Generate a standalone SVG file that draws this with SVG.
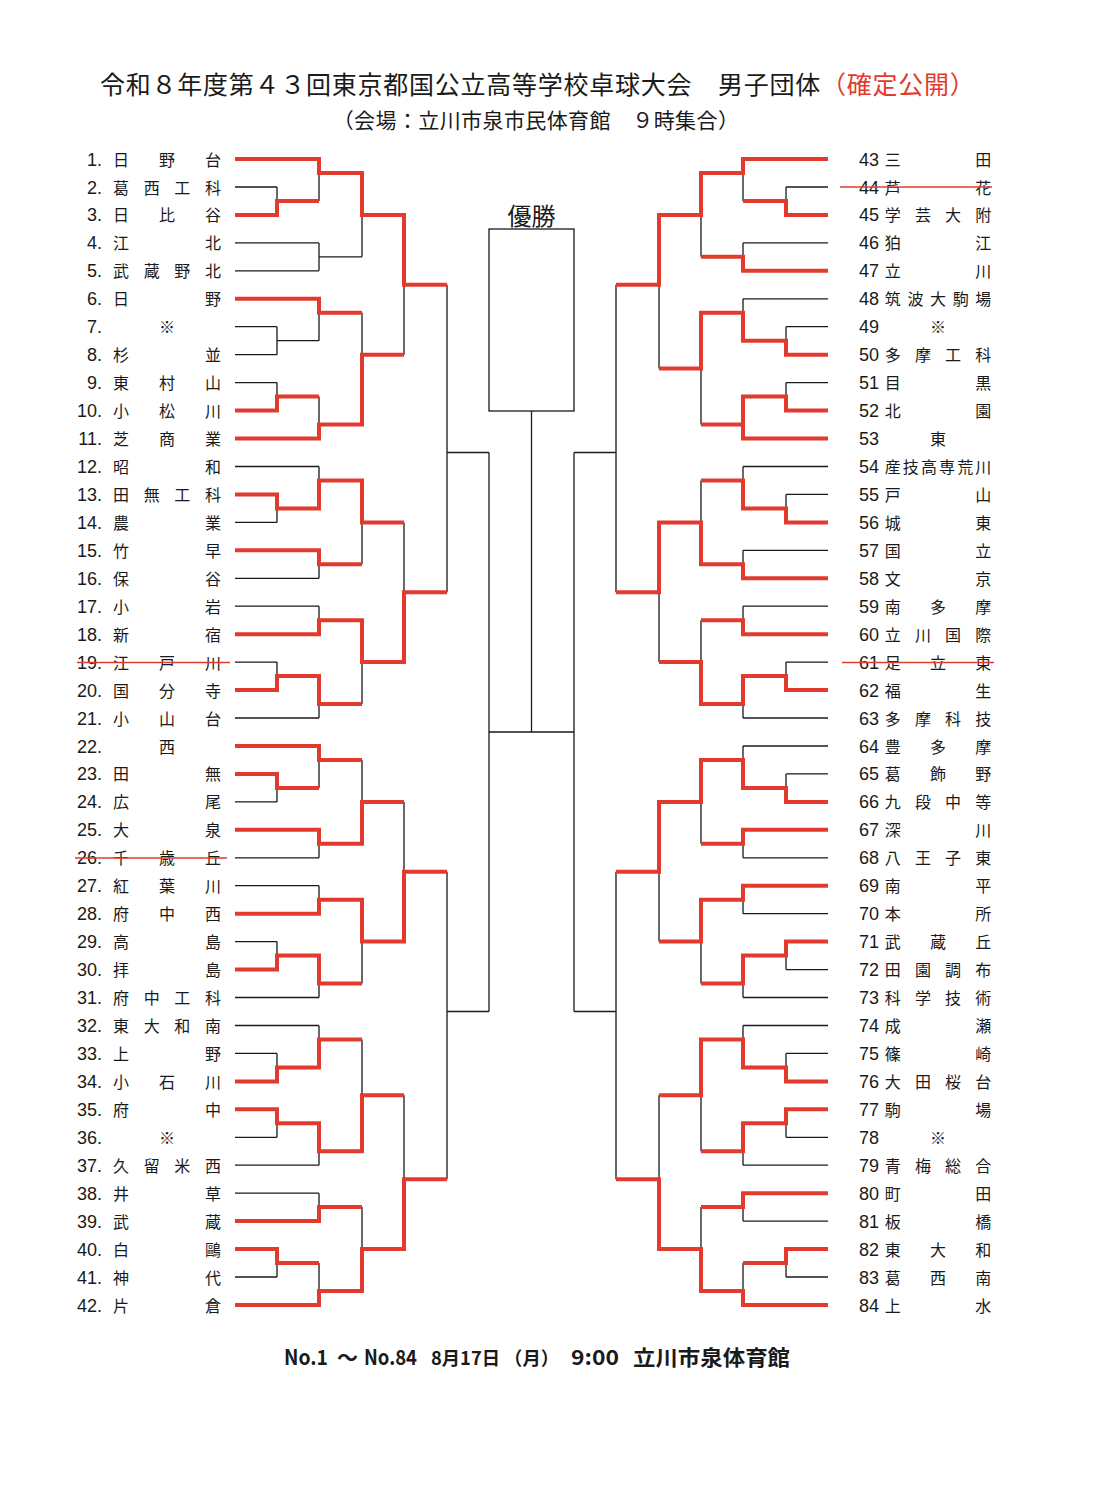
<svg xmlns="http://www.w3.org/2000/svg" width="1098" height="1486" viewBox="0 0 1098 1486">
<style>
.bk{fill:none;stroke:#1a1a1a;stroke-width:1.3}
.rd{fill:none;stroke:#e23b2e;stroke-width:4;stroke-linejoin:miter}
.xo{fill:none;stroke:#e23b2e;stroke-width:1.6}
.num{font-family:"Liberation Sans","Noto Sans CJK JP",sans-serif;font-size:18px;fill:#1a1a1a}
.nl{text-anchor:end}
.nm{font-family:"Noto Sans CJK JP",sans-serif;font-size:16px;fill:#1a1a1a;text-anchor:middle}
.tt{font-family:"Noto Sans CJK JP",sans-serif;fill:#1a1a1a}
.ft{font-family:"Noto Sans CJK JP",sans-serif;font-size:21px;font-weight:700;fill:#1a1a1a}
.ft2{font-family:"Noto Sans CJK JP",sans-serif;font-size:18.5px;font-weight:700;fill:#1a1a1a}
</style>
<rect width="1098" height="1486" fill="#ffffff"/>
<g id="title">
<text class="tt" x="100" y="94" font-size="25" letter-spacing="0.75">令和８年度第４３回東京都国公立高等学校卓球大会　男子団体<tspan fill="#e23b2e">（確定公開）</tspan></text>
<text class="tt" x="536" y="128" font-size="21" letter-spacing="0.4" text-anchor="middle">（会場：立川市泉市民体育館　９時集合）</text>
</g>
<g id="champion">
<text class="tt" x="531.5" y="225" font-size="24" text-anchor="middle">優勝</text>
<rect x="489" y="229" width="85" height="182" fill="none" stroke="#1a1a1a" stroke-width="1.3"/>
</g>
<g id="connectors">
<path class="bk" d="M235 159H319M235 187H277M235 214.9H277M235 242.9H319M235 270.8H319M235 298.8H319M235 326.7H277M235 354.7H277M235 382.6H277M235 410.6H277M235 438.5H319M235 466.5H319M235 494.4H277M235 522.4H277M235 550.3H319M235 578.3H319M235 606.2H319M235 634.2H319M235 662.1H277M235 690.1H277M235 718H319M235 746H319M235 773.9H277M235 801.9H277M235 829.8H319M235 857.8H319M235 885.7H319M235 913.7H319M235 941.6H277M235 969.6H277M235 997.5H319M235 1025.5H319M235 1053.4H277M235 1081.4H277M235 1109.3H277M235 1137.3H277M235 1165.2H319M235 1193.2H319M235 1221.1H319M235 1249.1H277M235 1277H277M235 1305H319
M277 187V214.9M277 200.9H319M277 326.7V354.7M277 340.7H319M277 382.6V410.6M277 396.6H319M277 494.4V522.4M277 508.4H319M277 662.1V690.1M277 676.1H319M277 773.9V801.9M277 787.9H319M277 941.6V969.6M277 955.6H319M277 1053.4V1081.4M277 1067.4H319M277 1109.3V1137.3M277 1123.3H319M277 1249.1V1277M277 1263H319
M319 159V200.9M319 173H362M319 242.9V270.8M319 256.8H362M319 298.8V340.7M319 312.7H362M319 396.6V438.5M319 424.5H362M319 466.5V508.4M319 480.4H362M319 550.3V578.3M319 564.3H362M319 606.2V634.2M319 620.2H362M319 676.1V718M319 704H362M319 746V787.9M319 759.9H362M319 829.8V857.8M319 843.8H362M319 885.7V913.7M319 899.7H362M319 955.6V997.5M319 983.5H362M319 1025.5V1067.4M319 1039.4H362M319 1123.3V1165.2M319 1151.2H362M319 1193.2V1221.1M319 1207.1H362M319 1263V1305M319 1291H362
M362 173V256.8M362 214.9H404M362 312.7V424.5M362 354.7H404M362 480.4V564.3M362 522.4H404M362 620.2V704M362 662.1H404M362 759.9V843.8M362 801.9H404M362 899.7V983.5M362 941.6H404M362 1039.4V1151.2M362 1095.3H404M362 1207.1V1291M362 1249.1H404
M404 214.9V354.7M404 284.8H447M404 522.4V662.1M404 592.2H447M404 801.9V941.6M404 871.7H447M404 1095.3V1249.1M404 1179.2H447
M447 284.8V592.2M447 452.5H489M447 871.7V1179.2M447 1011.5H489"/>
<path class="bk" d="M828 159H743M828 187H786M828 214.9H786M828 242.9H743M828 270.8H743M828 298.8H743M828 326.7H786M828 354.7H786M828 382.6H786M828 410.6H786M828 438.5H743M828 466.5H743M828 494.4H786M828 522.4H786M828 550.3H743M828 578.3H743M828 606.2H743M828 634.2H743M828 662.1H786M828 690.1H786M828 718H743M828 746H743M828 773.9H786M828 801.9H786M828 829.8H743M828 857.8H743M828 885.7H743M828 913.7H743M828 941.6H786M828 969.6H786M828 997.5H743M828 1025.5H743M828 1053.4H786M828 1081.4H786M828 1109.3H786M828 1137.3H786M828 1165.2H743M828 1193.2H743M828 1221.1H743M828 1249.1H786M828 1277H786M828 1305H743
M786 187V214.9M786 200.9H743M786 326.7V354.7M786 340.7H743M786 382.6V410.6M786 396.6H743M786 494.4V522.4M786 508.4H743M786 662.1V690.1M786 676.1H743M786 773.9V801.9M786 787.9H743M786 941.6V969.6M786 955.6H743M786 1053.4V1081.4M786 1067.4H743M786 1109.3V1137.3M786 1123.3H743M786 1249.1V1277M786 1263H743
M743 159V200.9M743 173H701M743 242.9V270.8M743 256.8H701M743 298.8V340.7M743 312.7H701M743 396.6V438.5M743 424.5H701M743 466.5V508.4M743 480.4H701M743 550.3V578.3M743 564.3H701M743 606.2V634.2M743 620.2H701M743 676.1V718M743 704H701M743 746V787.9M743 759.9H701M743 829.8V857.8M743 843.8H701M743 885.7V913.7M743 899.7H701M743 955.6V997.5M743 983.5H701M743 1025.5V1067.4M743 1039.4H701M743 1123.3V1165.2M743 1151.2H701M743 1193.2V1221.1M743 1207.1H701M743 1263V1305M743 1291H701
M701 173V256.8M701 214.9H659M701 312.7V424.5M701 368.6H659M701 480.4V564.3M701 522.4H659M701 620.2V704M701 662.1H659M701 759.9V843.8M701 801.9H659M701 899.7V983.5M701 941.6H659M701 1039.4V1151.2M701 1095.3H659M701 1207.1V1291M701 1249.1H659
M659 214.9V368.6M659 284.8H616M659 522.4V662.1M659 592.2H616M659 801.9V941.6M659 871.7H616M659 1095.3V1249.1M659 1179.2H616
M616 284.8V592.2M616 452.5H574M616 871.7V1179.2M616 1011.5H574"/>
<path class="bk" d="M489 452.5V1011.5M574 452.5V1011.5M489 732H574M531.5 411V732"/>
<path class="rd" d="M235 159H319V173H362V214.9H404V284.8H447M235 214.9H277V200.9H319M235 298.8H319V312.7H362M235 410.6H277V396.6H319M235 438.5H319V424.5H362V354.7H404M235 494.4H277V508.4H319V480.4H362V522.4H404M235 550.3H319V564.3H362M235 634.2H319V620.2H362V662.1H404V592.2H447M235 690.1H277V676.1H319V704H362M235 746H319V759.9H362M235 773.9H277V787.9H319M235 829.8H319V843.8H362V801.9H404M235 913.7H319V899.7H362V941.6H404V871.7H447M235 969.6H277V955.6H319V983.5H362M235 1081.4H277V1067.4H319V1039.4H362M235 1109.3H277V1123.3H319V1151.2H362V1095.3H404M235 1221.1H319V1207.1H362M235 1249.1H277V1263H319M235 1305H319V1291H362V1249.1H404V1179.2H447"/>
<path class="rd" d="M828 159H743V173H701V214.9H659V284.8H616M828 214.9H786V200.9H743M828 270.8H743V256.8H701M828 354.7H786V340.7H743V312.7H701V368.6H659M828 410.6H786V396.6H743V438.5H828M743 424.5H701M828 522.4H786V508.4H743V480.4H701M828 578.3H743V564.3H701V522.4H659V592.2H616M828 634.2H743V620.2H701M828 690.1H786V676.1H743V704H701V662.1H659M828 801.9H786V787.9H743V759.9H701V801.9H659V871.7H616M828 829.8H743V843.8H701M828 885.7H743V899.7H701V941.6H659M828 941.6H786V955.6H743V983.5H701M828 1081.4H786V1067.4H743V1039.4H701V1095.3H659M828 1109.3H786V1123.3H743V1151.2H701M828 1193.2H743V1207.1H701M828 1249.1H786V1263H743M828 1305H743V1291H701V1249.1H659V1179.2H616"/>
</g>
<g id="left-teams">
<g id="t1"><text class="num nl" x="102" y="165.5">1.</text><text class="nm" x="121 167 213" y="165.5">日野台</text></g>
<g id="t2"><text class="num nl" x="102" y="193.5">2.</text><text class="nm" x="121 151.7 182.3 213" y="193.5">葛西工科</text></g>
<g id="t3"><text class="num nl" x="102" y="221.4">3.</text><text class="nm" x="121 167 213" y="221.4">日比谷</text></g>
<g id="t4"><text class="num nl" x="102" y="249.4">4.</text><text class="nm" x="121 213" y="249.4">江北</text></g>
<g id="t5"><text class="num nl" x="102" y="277.3">5.</text><text class="nm" x="121 151.7 182.3 213" y="277.3">武蔵野北</text></g>
<g id="t6"><text class="num nl" x="102" y="305.3">6.</text><text class="nm" x="121 213" y="305.3">日野</text></g>
<g id="t7"><text class="num nl" x="102" y="333.2">7.</text><text class="nm" x="167" y="333.2">※</text></g>
<g id="t8"><text class="num nl" x="102" y="361.2">8.</text><text class="nm" x="121 213" y="361.2">杉並</text></g>
<g id="t9"><text class="num nl" x="102" y="389.1">9.</text><text class="nm" x="121 167 213" y="389.1">東村山</text></g>
<g id="t10"><text class="num nl" x="102" y="417.1">10.</text><text class="nm" x="121 167 213" y="417.1">小松川</text></g>
<g id="t11"><text class="num nl" x="102" y="445">11.</text><text class="nm" x="121 167 213" y="445">芝商業</text></g>
<g id="t12"><text class="num nl" x="102" y="473">12.</text><text class="nm" x="121 213" y="473">昭和</text></g>
<g id="t13"><text class="num nl" x="102" y="500.9">13.</text><text class="nm" x="121 151.7 182.3 213" y="500.9">田無工科</text></g>
<g id="t14"><text class="num nl" x="102" y="528.9">14.</text><text class="nm" x="121 213" y="528.9">農業</text></g>
<g id="t15"><text class="num nl" x="102" y="556.8">15.</text><text class="nm" x="121 213" y="556.8">竹早</text></g>
<g id="t16"><text class="num nl" x="102" y="584.8">16.</text><text class="nm" x="121 213" y="584.8">保谷</text></g>
<g id="t17"><text class="num nl" x="102" y="612.7">17.</text><text class="nm" x="121 213" y="612.7">小岩</text></g>
<g id="t18"><text class="num nl" x="102" y="640.7">18.</text><text class="nm" x="121 213" y="640.7">新宿</text></g>
<g id="t19"><text class="num nl" x="102" y="668.6">19.</text><text class="nm" x="121 167 213" y="668.6">江戸川</text><path class="xo" d="M77 662.5H230"/></g>
<g id="t20"><text class="num nl" x="102" y="696.6">20.</text><text class="nm" x="121 167 213" y="696.6">国分寺</text></g>
<g id="t21"><text class="num nl" x="102" y="724.5">21.</text><text class="nm" x="121 167 213" y="724.5">小山台</text></g>
<g id="t22"><text class="num nl" x="102" y="752.5">22.</text><text class="nm" x="167" y="752.5">西</text></g>
<g id="t23"><text class="num nl" x="102" y="780.4">23.</text><text class="nm" x="121 213" y="780.4">田無</text></g>
<g id="t24"><text class="num nl" x="102" y="808.4">24.</text><text class="nm" x="121 213" y="808.4">広尾</text></g>
<g id="t25"><text class="num nl" x="102" y="836.3">25.</text><text class="nm" x="121 213" y="836.3">大泉</text></g>
<g id="t26"><text class="num nl" x="102" y="864.3">26.</text><text class="nm" x="121 167 213" y="864.3">千歳丘</text><path class="xo" d="M75 858H227"/></g>
<g id="t27"><text class="num nl" x="102" y="892.2">27.</text><text class="nm" x="121 167 213" y="892.2">紅葉川</text></g>
<g id="t28"><text class="num nl" x="102" y="920.2">28.</text><text class="nm" x="121 167 213" y="920.2">府中西</text></g>
<g id="t29"><text class="num nl" x="102" y="948.1">29.</text><text class="nm" x="121 213" y="948.1">高島</text></g>
<g id="t30"><text class="num nl" x="102" y="976.1">30.</text><text class="nm" x="121 213" y="976.1">拝島</text></g>
<g id="t31"><text class="num nl" x="102" y="1004">31.</text><text class="nm" x="121 151.7 182.3 213" y="1004">府中工科</text></g>
<g id="t32"><text class="num nl" x="102" y="1032">32.</text><text class="nm" x="121 151.7 182.3 213" y="1032">東大和南</text></g>
<g id="t33"><text class="num nl" x="102" y="1059.9">33.</text><text class="nm" x="121 213" y="1059.9">上野</text></g>
<g id="t34"><text class="num nl" x="102" y="1087.9">34.</text><text class="nm" x="121 167 213" y="1087.9">小石川</text></g>
<g id="t35"><text class="num nl" x="102" y="1115.8">35.</text><text class="nm" x="121 213" y="1115.8">府中</text></g>
<g id="t36"><text class="num nl" x="102" y="1143.8">36.</text><text class="nm" x="167" y="1143.8">※</text></g>
<g id="t37"><text class="num nl" x="102" y="1171.7">37.</text><text class="nm" x="121 151.7 182.3 213" y="1171.7">久留米西</text></g>
<g id="t38"><text class="num nl" x="102" y="1199.7">38.</text><text class="nm" x="121 213" y="1199.7">井草</text></g>
<g id="t39"><text class="num nl" x="102" y="1227.6">39.</text><text class="nm" x="121 213" y="1227.6">武蔵</text></g>
<g id="t40"><text class="num nl" x="102" y="1255.6">40.</text><text class="nm" x="121 213" y="1255.6">白鷗</text></g>
<g id="t41"><text class="num nl" x="102" y="1283.5">41.</text><text class="nm" x="121 213" y="1283.5">神代</text></g>
<g id="t42"><text class="num nl" x="102" y="1311.5">42.</text><text class="nm" x="121 213" y="1311.5">片倉</text></g>
</g>
<g id="right-teams">
<g id="t43"><text class="num" x="859" y="165.5">43</text><text class="nm" x="892.7 983.3" y="165.5">三田</text></g>
<g id="t44"><text class="num" x="859" y="193.5">44</text><text class="nm" x="892.7 983.3" y="193.5">芦花</text><path class="xo" d="M840 187H992"/></g>
<g id="t45"><text class="num" x="859" y="221.4">45</text><text class="nm" x="892.7 922.9 953.1 983.3" y="221.4">学芸大附</text></g>
<g id="t46"><text class="num" x="859" y="249.4">46</text><text class="nm" x="892.7 983.3" y="249.4">狛江</text></g>
<g id="t47"><text class="num" x="859" y="277.3">47</text><text class="nm" x="892.7 983.3" y="277.3">立川</text></g>
<g id="t48"><text class="num" x="859" y="305.3">48</text><text class="nm" x="892.7 915.4 938 960.7 983.3" y="305.3">筑波大駒場</text></g>
<g id="t49"><text class="num" x="859" y="333.2">49</text><text class="nm" x="938" y="333.2">※</text></g>
<g id="t50"><text class="num" x="859" y="361.2">50</text><text class="nm" x="892.7 922.9 953.1 983.3" y="361.2">多摩工科</text></g>
<g id="t51"><text class="num" x="859" y="389.1">51</text><text class="nm" x="892.7 983.3" y="389.1">目黒</text></g>
<g id="t52"><text class="num" x="859" y="417.1">52</text><text class="nm" x="892.7 983.3" y="417.1">北園</text></g>
<g id="t53"><text class="num" x="859" y="445">53</text><text class="nm" x="938" y="445">東</text></g>
<g id="t54"><text class="num" x="859" y="473">54</text><text class="nm" x="892.7 910.8 928.9 947.1 965.2 983.3" y="473">産技高専荒川</text></g>
<g id="t55"><text class="num" x="859" y="500.9">55</text><text class="nm" x="892.7 983.3" y="500.9">戸山</text></g>
<g id="t56"><text class="num" x="859" y="528.9">56</text><text class="nm" x="892.7 983.3" y="528.9">城東</text></g>
<g id="t57"><text class="num" x="859" y="556.8">57</text><text class="nm" x="892.7 983.3" y="556.8">国立</text></g>
<g id="t58"><text class="num" x="859" y="584.8">58</text><text class="nm" x="892.7 983.3" y="584.8">文京</text></g>
<g id="t59"><text class="num" x="859" y="612.7">59</text><text class="nm" x="892.7 938 983.3" y="612.7">南多摩</text></g>
<g id="t60"><text class="num" x="859" y="640.7">60</text><text class="nm" x="892.7 922.9 953.1 983.3" y="640.7">立川国際</text></g>
<g id="t61"><text class="num" x="859" y="668.6">61</text><text class="nm" x="892.7 938 983.3" y="668.6">足立東</text><path class="xo" d="M842 662.5H994"/></g>
<g id="t62"><text class="num" x="859" y="696.6">62</text><text class="nm" x="892.7 983.3" y="696.6">福生</text></g>
<g id="t63"><text class="num" x="859" y="724.5">63</text><text class="nm" x="892.7 922.9 953.1 983.3" y="724.5">多摩科技</text></g>
<g id="t64"><text class="num" x="859" y="752.5">64</text><text class="nm" x="892.7 938 983.3" y="752.5">豊多摩</text></g>
<g id="t65"><text class="num" x="859" y="780.4">65</text><text class="nm" x="892.7 938 983.3" y="780.4">葛飾野</text></g>
<g id="t66"><text class="num" x="859" y="808.4">66</text><text class="nm" x="892.7 922.9 953.1 983.3" y="808.4">九段中等</text></g>
<g id="t67"><text class="num" x="859" y="836.3">67</text><text class="nm" x="892.7 983.3" y="836.3">深川</text></g>
<g id="t68"><text class="num" x="859" y="864.3">68</text><text class="nm" x="892.7 922.9 953.1 983.3" y="864.3">八王子東</text></g>
<g id="t69"><text class="num" x="859" y="892.2">69</text><text class="nm" x="892.7 983.3" y="892.2">南平</text></g>
<g id="t70"><text class="num" x="859" y="920.2">70</text><text class="nm" x="892.7 983.3" y="920.2">本所</text></g>
<g id="t71"><text class="num" x="859" y="948.1">71</text><text class="nm" x="892.7 938 983.3" y="948.1">武蔵丘</text></g>
<g id="t72"><text class="num" x="859" y="976.1">72</text><text class="nm" x="892.7 922.9 953.1 983.3" y="976.1">田園調布</text></g>
<g id="t73"><text class="num" x="859" y="1004">73</text><text class="nm" x="892.7 922.9 953.1 983.3" y="1004">科学技術</text></g>
<g id="t74"><text class="num" x="859" y="1032">74</text><text class="nm" x="892.7 983.3" y="1032">成瀬</text></g>
<g id="t75"><text class="num" x="859" y="1059.9">75</text><text class="nm" x="892.7 983.3" y="1059.9">篠崎</text></g>
<g id="t76"><text class="num" x="859" y="1087.9">76</text><text class="nm" x="892.7 922.9 953.1 983.3" y="1087.9">大田桜台</text></g>
<g id="t77"><text class="num" x="859" y="1115.8">77</text><text class="nm" x="892.7 983.3" y="1115.8">駒場</text></g>
<g id="t78"><text class="num" x="859" y="1143.8">78</text><text class="nm" x="938" y="1143.8">※</text></g>
<g id="t79"><text class="num" x="859" y="1171.7">79</text><text class="nm" x="892.7 922.9 953.1 983.3" y="1171.7">青梅総合</text></g>
<g id="t80"><text class="num" x="859" y="1199.7">80</text><text class="nm" x="892.7 983.3" y="1199.7">町田</text></g>
<g id="t81"><text class="num" x="859" y="1227.6">81</text><text class="nm" x="892.7 983.3" y="1227.6">板橋</text></g>
<g id="t82"><text class="num" x="859" y="1255.6">82</text><text class="nm" x="892.7 938 983.3" y="1255.6">東大和</text></g>
<g id="t83"><text class="num" x="859" y="1283.5">83</text><text class="nm" x="892.7 938 983.3" y="1283.5">葛西南</text></g>
<g id="t84"><text class="num" x="859" y="1311.5">84</text><text class="nm" x="892.7 983.3" y="1311.5">上水</text></g>
</g>
<g id="footer">
<text class="ft" x="284" y="1365" textLength="44" lengthAdjust="spacingAndGlyphs">No.1</text>
<text class="ft" x="337" y="1365">～</text>
<text class="ft" x="364" y="1365" textLength="53" lengthAdjust="spacingAndGlyphs">No.84</text>
<text class="ft2" x="431" y="1365" textLength="128" lengthAdjust="spacingAndGlyphs">8月17日 （月）</text>
<text class="ft" x="571" y="1365" textLength="48" lengthAdjust="spacingAndGlyphs">9:00</text>
<text class="ft" x="633" y="1365" textLength="157" lengthAdjust="spacingAndGlyphs">立川市泉体育館</text>
</g>
</svg>
